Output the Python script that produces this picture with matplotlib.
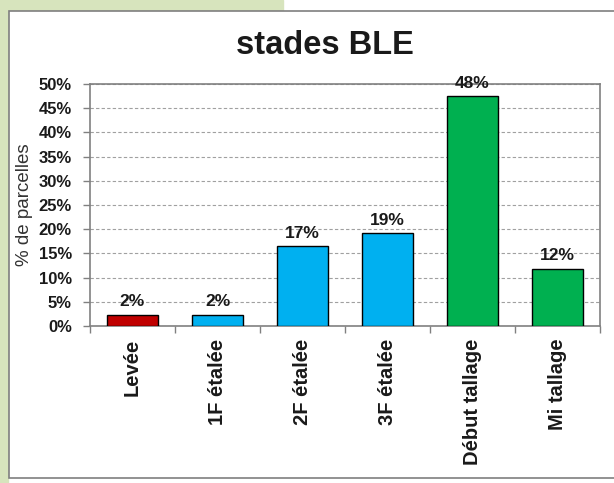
import matplotlib
matplotlib.use("Agg")
import matplotlib.pyplot as plt
from matplotlib.patches import Rectangle
from matplotlib.ticker import FixedLocator

categories = ["Levée", "1F étalée", "2F étalée", "3F étalée", "Début tallage", "Mi tallage"]
values = [2.3, 2.3, 16.5, 19.2, 47.5, 11.8]
labels = ["2%", "2%", "17%", "19%", "48%", "12%"]
colors = ["#C00000", "#00B0F0", "#00B0F0", "#00B0F0", "#00B050", "#00B050"]
yticks = [0, 5, 10, 15, 20, 25, 30, 35, 40, 45, 50]

plt.rcParams['font.family'] = ['Liberation Sans', 'DejaVu Sans']

W, H = 614, 483
fig = plt.figure(figsize=(W / 100, H / 100), dpi=100)
fig.patch.set_facecolor("white")

green = "#D7E4BD"
# background decorations
fig.patches.append(Rectangle((0, 0), 8 / W, 1, transform=fig.transFigure, color=green, zorder=-3))
fig.patches.append(Rectangle((0, 1 - 11 / H), 283 / W, 11 / H, transform=fig.transFigure, color=green, zorder=-3))
fig.patches.append(Rectangle((9 / W, 5 / H), 1.2, 1 - 16 / H, transform=fig.transFigure,
                             facecolor="white", edgecolor="#7F7F7F", lw=1.2, zorder=-2))

ax = fig.add_axes([90 / W, 1 - 326 / H, 510 / W, 242 / H])
ax.patch.set_alpha(0)
x = range(len(categories))
ax.bar(x, values, width=0.6, color=colors, edgecolor="black", linewidth=1, zorder=3)
for xi, v, lab in zip(x, values, labels):
    ax.annotate(lab, (xi, v), xytext=(0, 4), textcoords="offset points",
                ha="center", va="bottom", fontsize=12.5, fontweight="bold", color="#1a1a1a")

ax.set_xlim(-0.5, len(categories) - 0.5)
ax.set_ylim(0, 50)
ax.set_yticks(yticks)
ax.set_yticklabels([f"{t}%" for t in yticks], fontsize=12, fontweight="bold", color="#1a1a1a")
ax.yaxis.grid(True, linestyle=(0, (3, 2)), color="#A0A0A0", linewidth=0.8, zorder=0)
ax.set_axisbelow(True)

ax.set_xticks(list(x))
ax.set_xticklabels(categories, rotation=90, fontsize=14.5, fontweight="bold", color="#1a1a1a")
ax.tick_params(axis="x", length=0, pad=9)
ax.xaxis.set_minor_locator(FixedLocator([i - 0.5 for i in range(len(categories) + 1)]))
ax.tick_params(axis="x", which="minor", length=5, width=1, color="#808080")
ax.tick_params(axis="y", length=5, width=1, color="#808080", direction="out", pad=8)

for s in ["left", "bottom", "right", "top"]:
    ax.spines[s].set_color("#808080")
    ax.spines[s].set_linewidth(1.2)

ax.set_ylabel("% de parcelles", fontsize=13.5, color="#333333", labelpad=4)

fig.text(325 / W, 1 - 45 / H, "stades BLE", ha="center", va="center", fontsize=23.5,
         fontweight="bold", color="#1a1a1a")

fig.savefig("out.png", dpi=100)
